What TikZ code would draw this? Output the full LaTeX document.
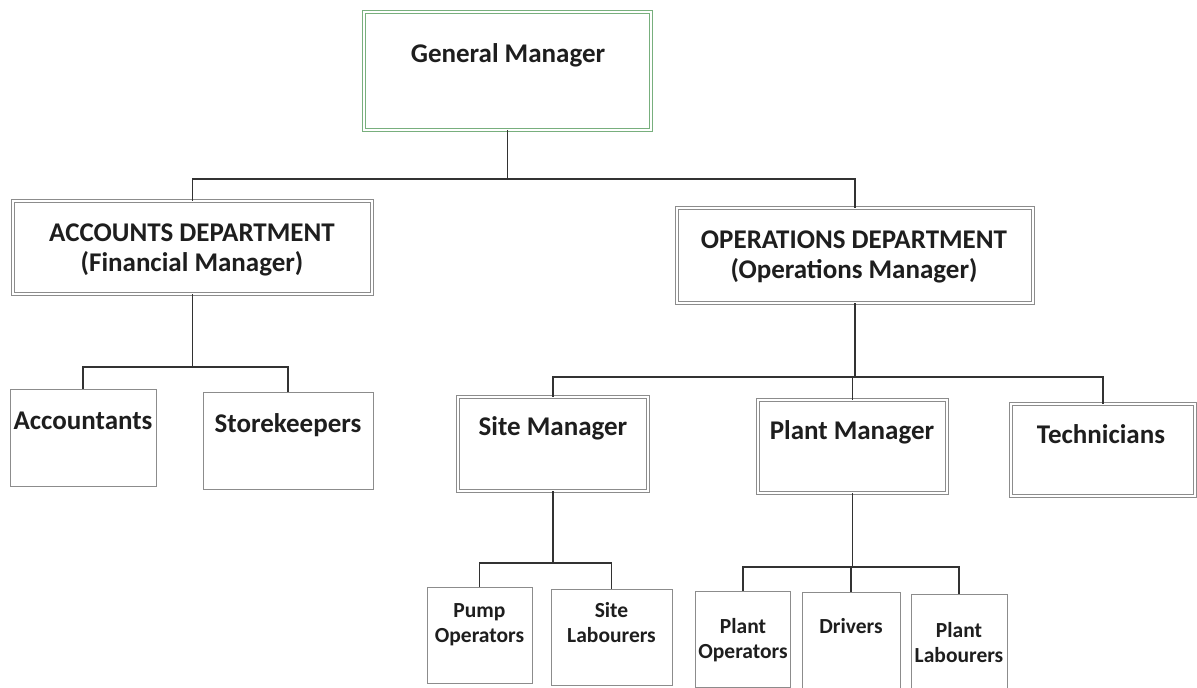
\documentclass[tikz,border=0pt]{standalone}
\usepackage{fontspec}
\setmainfont{Carlito}
\definecolor{boxgray}{RGB}{140,140,140}
\definecolor{gmgreen}{RGB}{120,175,125}
\definecolor{linec}{RGB}{50,50,50}
\definecolor{textc}{RGB}{30,30,30}
\begin{document}
\begin{tikzpicture}[x=1bp,y=-1bp,
  dbox/.style={draw=boxgray, double=white, double distance=2.6bp, line width=0.7bp, inner sep=0pt, rectangle},
  sbox/.style={draw=boxgray, line width=0.9bp, inner sep=0pt, rectangle},
  bigtxt/.style={font=\bfseries\fontsize{27bp}{30bp}\selectfont, text=textc, anchor=base, inner sep=0pt},
  smalltxt/.style={font=\bfseries\fontsize{21.5bp}{25.5bp}\selectfont, text=textc, anchor=base, inner sep=0pt},
  conn/.style={draw=linec, line width=1.4bp}
]
\useasboundingbox (0,0) rectangle (1197,688);
\fill[white] (0,0) rectangle (1197,688);

% boxes
\node[dbox, draw=gmgreen, minimum width=287bp, minimum height=118bp] (gm) at (507.5,71) {};
\node[dbox, minimum width=359bp, minimum height=93bp] (acc) at (192.5,247.5) {};
\node[dbox, minimum width=356bp, minimum height=95bp] (ops) at (855,255.5) {};
\node[sbox, minimum width=146bp, minimum height=97bp] (acct) at (83,437.5) {};
\node[sbox, minimum width=170bp, minimum height=97bp] (store) at (288,440.5) {};
\node[dbox, minimum width=190bp, minimum height=94bp] (site) at (553,444) {};
\node[dbox, minimum width=189bp, minimum height=93bp] (plant) at (852.5,446.5) {};
\node[dbox, minimum width=184bp, minimum height=92bp] (tech) at (1103,450) {};
\node[sbox, minimum width=105bp, minimum height=96bp] (pump) at (479.5,635) {};
\node[sbox, minimum width=121bp, minimum height=96bp] (slab) at (611.5,637) {};
\node[sbox, minimum width=95bp, minimum height=96bp] (pop) at (743,639) {};
\node[sbox, minimum width=98bp, minimum height=96bp] (drv) at (851,640) {};
\node[sbox, minimum width=96bp, minimum height=94bp] (plab) at (959,641) {};

% texts
\node[bigtxt] (tgm) at (508,63) {General Manager};
\node[bigtxt] (tacc) at (192,241) {\begin{tabular}[t]{@{}c@{}}ACCOUNTS DEPARTMENT\\(Financial Manager)\end{tabular}};
\node[bigtxt] (tops) at (854,248) {\begin{tabular}[t]{@{}c@{}}OPERATIONS DEPARTMENT\\(Operations Manager)\end{tabular}};
\node[bigtxt] (tacct) at (83,429) {Accountants};
\node[bigtxt] (tstore) at (288,432) {Storekeepers};
\node[bigtxt] (tsite) at (553,435) {Site Manager};
\node[bigtxt] (tplant) at (852,439) {Plant Manager};
\node[bigtxt] (ttech) at (1101,443) {Technicians};
\node[smalltxt] (tpump) at (479.5,617) {\begin{tabular}[t]{@{}c@{}}Pump\\Operators\end{tabular}};
\node[smalltxt] (tslab) at (611.5,617) {\begin{tabular}[t]{@{}c@{}}Site\\Labourers\end{tabular}};
\node[smalltxt] (tpop) at (743,633) {\begin{tabular}[t]{@{}c@{}}Plant\\Operators\end{tabular}};
\node[smalltxt] (tdrv) at (851,633) {Drivers};
\node[smalltxt] (tplab) at (959,637) {\begin{tabular}[t]{@{}c@{}}Plant\\Labourers\end{tabular}};

% junctions
\coordinate (j1) at (507.5,179);
\coordinate (j2) at (192.5,367);
\coordinate (j3) at (855,377);
\coordinate (j4) at (553,563);
\coordinate (j5) at (852.5,567);

% connectors
\draw[conn] (gm.south) -- (j1);
\draw[conn] (acc.north) |- (j1) -| (ops.north);
\draw[conn] (acc.south) -- (j2);
\draw[conn] (acct.north) |- (j2) -| (store.north);
\draw[conn] (ops.south) -- (j3);
\draw[conn] (site.north) |- (j3) -| (tech.north);
\draw[conn] (j3) -| (plant.north);
\draw[conn] (site.south) -- (j4);
\draw[conn] (pump.north) |- (j4) -| (slab.north);
\draw[conn] (plant.south) -- (j5);
\draw[conn] (pop.north) |- (j5) -| (plab.north);
\draw[conn] (j5) -| (drv.north);
\end{tikzpicture}
\end{document}
